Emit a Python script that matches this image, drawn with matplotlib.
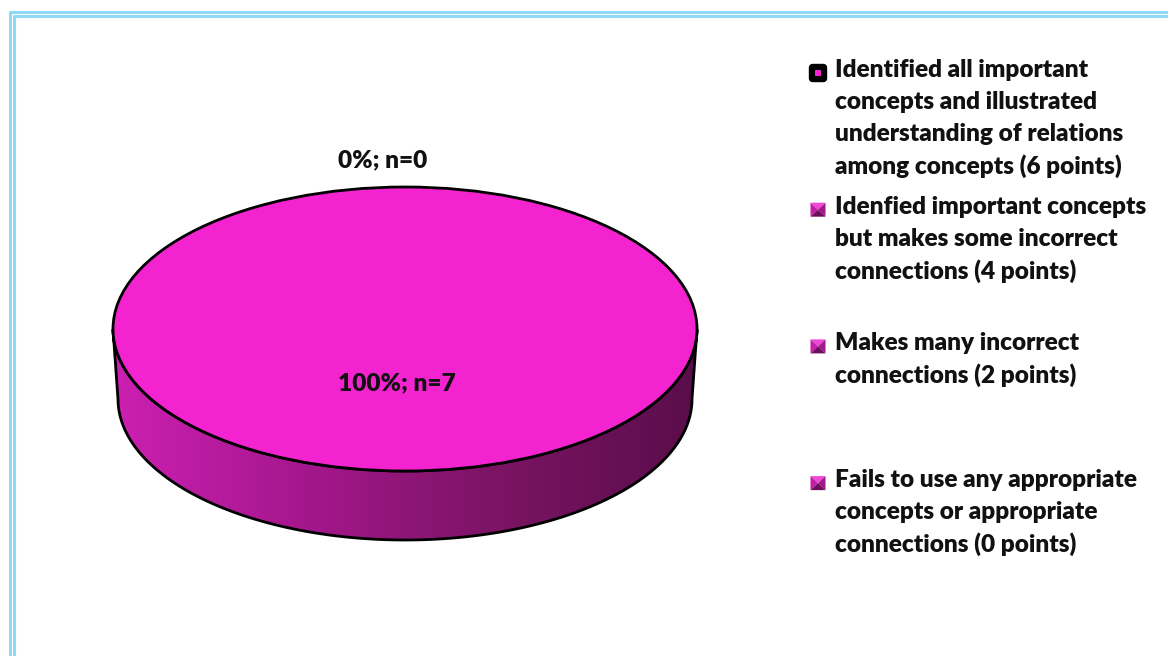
import numpy as np
import matplotlib
matplotlib.use("Agg")
import matplotlib.pyplot as plt
from matplotlib.patches import Ellipse, Polygon, Rectangle, FancyBboxPatch
from matplotlib.colors import LinearSegmentedColormap

# ---- data ----
categories = [
    "Identified all important\nconcepts and illustrated\nunderstanding of relations\namong concepts (6 points)",
    "Idenfied important concepts\nbut makes some incorrect\nconnections (4 points)",
    "Makes many incorrect\nconnections (2 points)",
    "Fails to use any appropriate\nconcepts or appropriate\nconnections (0 points)",
]
counts = [0, 7, 0, 0]

TOP = "#f423d0"
SIDE_LEFT = "#cc20b2"
SIDE_RIGHT = "#5a0d4a"
BORDER = "#8fd9f4"
FONT = dict(family="Lato", weight="heavy", fontsize=17.6, color="#111111")

W, H = 1168, 656
fig = plt.figure(figsize=(W / 100, H / 100), dpi=100)
ax = fig.add_axes([0, 0, 1, 1])
ax.set_xlim(0, W)
ax.set_ylim(H, 0)
ax.axis("off")

# double frame
for off in (9.5, 13.5):
    ax.plot([off, off, W + 5], [H + 5, off + 2, off + 2], color=BORDER, lw=2.2,
            solid_joinstyle="round", zorder=1)

# ---- 3D pie geometry ----
cx, cy, rx, ry, depth = 405, 329, 292, 142, 70
rx_b, ry_b = 287, 141  # bottom rim, slightly smaller for perspective
total = sum(counts)
fracs = [c / total for c in counts]
start = -np.pi / 2  # 12 o'clock, clockwise (screen y grows downward)
bounds = np.concatenate([[0], np.cumsum(fracs)]) * 2 * np.pi + start


def pt(t, dy=0.0, a=rx, b=ry):
    return cx + a * np.cos(t), cy + b * np.sin(t) + dy


# side wall (front half), shaded left to right
cmap = LinearSegmentedColormap.from_list("side", [SIDE_LEFT, "#a4178c", "#7a1463", SIDE_RIGHT])
for i, f in enumerate(fracs):
    if f <= 0:
        continue
    a0, a1 = bounds[i], bounds[i + 1]
    ts = np.mod(np.linspace(a0, a1, 720), 2 * np.pi)
    ts = np.sort(ts[(ts >= 0) & (ts <= np.pi)])
    if len(ts) < 2:
        continue
    upper = np.column_stack(pt(ts))
    lower = np.column_stack(pt(ts[::-1], depth, rx_b, ry_b))
    poly = Polygon(np.vstack([upper, lower]), closed=True, facecolor="none",
                   edgecolor="black", lw=2.0, zorder=3)
    ax.add_patch(poly)
    grad = np.linspace(0, 1, 256).reshape(1, -1)
    im = ax.imshow(grad, cmap=cmap, aspect="auto",
                   extent=[cx - rx, cx + rx, cy + ry + depth, cy], zorder=2)
    im.set_clip_path(poly)

# top faces
for i, f in enumerate(fracs):
    if f <= 0:
        continue
    a0, a1 = bounds[i], bounds[i + 1]
    if f >= 1:
        ax.add_patch(Ellipse((cx, cy), 2 * rx, 2 * ry, facecolor=TOP,
                             edgecolor="black", lw=2.0, zorder=4))
    else:
        ts = np.linspace(a0, a1, 360)
        xs, ys = pt(ts)
        verts = np.vstack([[cx, cy], np.column_stack([xs, ys])])
        ax.add_patch(Polygon(verts, closed=True, facecolor=TOP,
                             edgecolor="black", lw=2.0, zorder=4))

# data labels
placed = set()
for i, c in enumerate(counts):
    pct = round(100 * fracs[i])
    txt = f"{pct}%; n={c}"
    if fracs[i] >= 1:
        pos = (cx - 8, cy + 54)
    else:
        mid = (bounds[i] + bounds[i + 1]) / 2
        px, py = pt(mid)
        pos = (px - 22, py - 27)
    key = (txt, round(pos[0]), round(pos[1]))
    if key in placed:
        continue
    placed.add(key)
    ax.text(pos[0], pos[1], txt, ha="center", va="center", zorder=6, **FONT)

# ---- legend ----
lx, ly0, step, pitch = 835, 70, 136.7, 32
for i, label in enumerate(categories):
    y0 = ly0 + i * step
    for j, line in enumerate(label.split("\n")):
        ax.text(lx, y0 + j * pitch, line, ha="left", va="center", zorder=6, **FONT)
    mx, my = 818, y0 + 3
    if i == 0:
        ax.add_patch(FancyBboxPatch((mx - 7, my - 7), 14, 14,
                                    boxstyle="round,pad=1.5,rounding_size=3.5",
                                    facecolor="black", edgecolor="black", zorder=6))
        ax.add_patch(Rectangle((mx - 3, my - 3), 6, 6, facecolor=TOP,
                               edgecolor="none", zorder=7))
    else:
        hx, hy = 7.5, 7
        c = (mx, my)
        tl, tr = (mx - hx, my - hy), (mx + hx, my - hy)
        br, bl = (mx + hx, my + hy), (mx - hx, my + hy)
        for tri, col in [((tl, tr, c), "#ee48d6"), ((tl, bl, c), "#c21fa6"),
                         ((tr, br, c), "#a3188b"), ((bl, br, c), "#6e0d5c")]:
            ax.add_patch(Polygon(tri, closed=True, facecolor=col, edgecolor="none", zorder=6))

fig.savefig("out.png", dpi=100, facecolor="white")
